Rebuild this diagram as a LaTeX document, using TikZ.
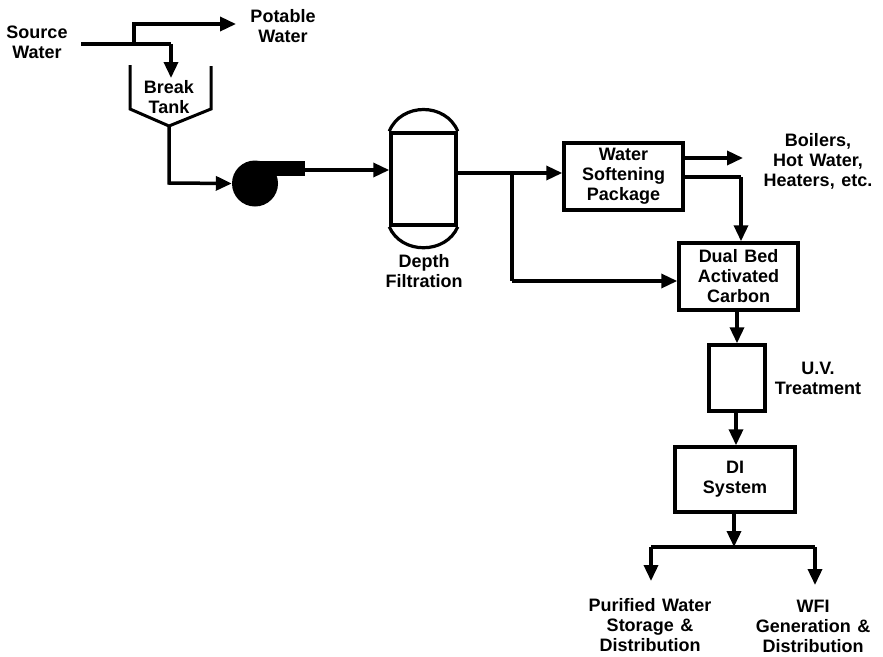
\documentclass[tikz,border=0pt]{standalone}
\usepackage{fontspec}
\setmainfont[WordSpace=1.3]{Liberation Sans}
\usetikzlibrary{arrows.meta,calc}
\tikzset{
  lbl/.style={font=\fontsize{18}{20}\selectfont\bfseries, align=center, inner sep=0pt, text=black},
  boxa/.style={draw=black, line width=3.5pt, rectangle, inner sep=0pt, fill=white},
  pipe/.style={draw=black, line width=3.5pt, line join=miter},
  arr/.style={pipe, -{Triangle[length=16pt,width=14pt]}},
}
\begin{document}
\begin{tikzpicture}[x=1pt,y=-1pt]
\useasboundingbox (0,0) rectangle (883,656);
% labels
\node[lbl] (srclbl) at (37,42) {Source\\Water};
\node[lbl] (potlbl) at (283,26) {Potable\\Water};
\node[lbl] (tanklbl) at (169,97) {Break\\Tank};
\node[lbl] (deplbl) at (424,271) {Depth\\Filtration};
\node[lbl] (boillbl) at (818,161) {Boilers,\\Hot Water,\\Heaters, etc.};
\node[lbl] (uvlbl) at (818,378) {U.V.\\Treatment};
\node[lbl] (purlbl) at (650,625) {Purified Water\\Storage \&\\Distribution};
\node[lbl] (wfilbl) at (813,626) {WFI\\Generation \&\\Distribution};
% vessels and boxes
\node[boxa, minimum width=65pt, minimum height=92pt] (filter) at (423.5,179) {};
\node[boxa, lbl, minimum width=119pt, minimum height=67pt] (soft) at (623.5,176.5) {Water\\Softening\\Package};
\node[boxa, lbl, minimum width=119pt, minimum height=67pt] (dual) at (738.5,276.5) {Dual Bed\\Activated\\Carbon};
\node[boxa, minimum width=56pt, minimum height=66pt] (uv) at (737,378) {};
\node[boxa, lbl, minimum width=120pt, minimum height=65pt] (di) at (735,479.5) {DI\\System};
\draw[line width=3.2pt] (filter.north west) .. controls +(12,-29) and +(-12,-29) .. (filter.north east);
\draw[line width=3.2pt] (filter.south west) .. controls +(12,28) and +(-12,28) .. (filter.south east);
% pump
\node[circle, fill=black, inner sep=0pt, minimum size=46pt] (pump) at (255,183.5) {};
\node[rectangle, fill=black, inner sep=0pt, minimum width=50pt, minimum height=15pt] (disch) at (280,168) {};
% tank
\coordinate (tl) at (130,65);
\coordinate (tlb) at (130,109);
\coordinate (tb) at (169,126);
\coordinate (trb) at (211,109);
\coordinate (tr) at (211,66);
\draw[pipe, line width=3pt] (tl) -- (tlb) -- (tb) -- (trb) -- (tr);
% connectors
\coordinate (s0) at (81,44);
\coordinate (s1) at (134,44);
\coordinate (s2) at (171,44);
\coordinate (s3) at (171,78);
\coordinate (p1) at (134,24);
\coordinate (p2) at (236,26);
\draw[pipe] (s0) -- (s2);
\draw[arr] (s2) -- (s3);
\draw[arr] (s1) -- (p1) -- (p1 -| p2);
\coordinate (t1) at (169,183);
\draw[arr] (tb) -- (t1) -- (pump.west);
\coordinate (f1) at (300,170);
\draw[arr] (f1) -- (filter.west |- f1);
\coordinate (j1) at (512,173);
\coordinate (j2) at (512,281);
\draw[arr] (filter.east |- j1) -- (soft.west |- j1);
\draw[pipe] (j1) -- (j2);
\draw[arr] (j2) -- (dual.west |- j2);
\coordinate (b1) at (743,158);
\draw[arr] (soft.east |- b1) -- (b1);
\coordinate (c1) at (741,177);
\draw[pipe] (soft.east |- c1) -- (c1);
\draw[arr] (c1) -- (c1 |- dual.north);
\draw[arr] (dual.south -| uv.north) -- (uv.north);
\coordinate (d1) at (736,412);
\draw[arr] (uv.south -| d1) -- (d1 |- di.north);
\coordinate (e0) at (734,547);
\coordinate (el) at (651,547);
\coordinate (er) at (815,547);
\draw[arr] (di.south -| e0) -- (e0);
\draw[pipe] (el) -- (er);
\coordinate (elt) at (651,581);
\coordinate (ert) at (815,585);
\draw[arr] (el) -- (elt);
\draw[arr] (er) -- (ert);
\end{tikzpicture}
\end{document}
